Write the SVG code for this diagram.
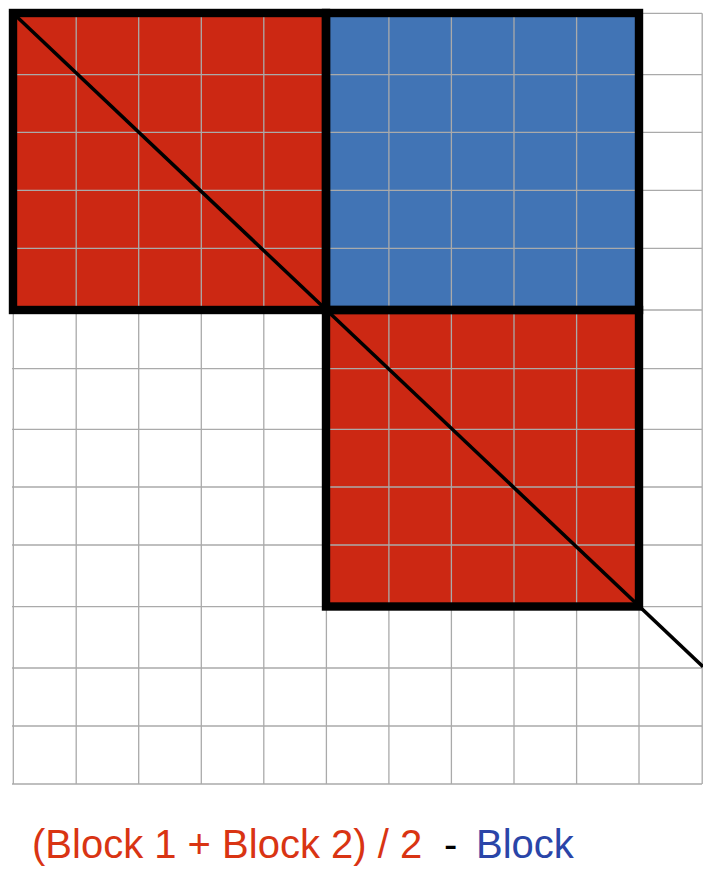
<svg xmlns="http://www.w3.org/2000/svg" width="703" height="887" viewBox="0 0 703 887">
<style>
.grid{stroke:#aaaaaa;stroke-width:1.3;fill:none}
.box{stroke:#000;stroke-width:8.4;fill:none;stroke-linejoin:miter}
.lbl{font-family:"Liberation Sans",Arial,sans-serif;font-size:40px}
</style>
<rect width="703" height="887" fill="#fff"/>
<g id="block1"><rect x="13" y="13" width="313" height="297" fill="#CC2813"/></g>
<g id="block-blue"><rect x="326" y="13" width="313" height="297" fill="#4174B5"/></g>
<g id="block2"><rect x="326" y="310" width="313" height="296.5" fill="#CC2813"/></g>
<g id="grid">
<path class="grid" d="M13.3 13.3V784 M76.2 13.3V784 M138.7 13.3V784 M201.3 13.3V784 M263.8 13.3V784 M326.4 13.3V784 M388.9 13.3V784 M451.4 13.3V784 M514 13.3V784 M576.6 13.3V784 M639 13.3V784 M702.2 13.3V784
M12 13.3H702 M12 74.7H702 M12 132.3H702 M12 190.3H702 M12 248.3H702 M12 310H702 M12 368.7H702 M12 429.3H702 M12 487H702 M12 545H702 M12 606.7H702 M12 668H702 M12 726H702 M12 784H702"/>
</g>
<g id="outlines">
<rect class="box" x="13" y="13" width="313" height="297"/>
<rect class="box" x="326" y="13" width="313" height="297"/>
<rect class="box" x="326" y="310" width="313" height="296.5"/>
</g>
<g id="connectors">
<line x1="10" y1="10.2" x2="703" y2="666.7" stroke="#000" stroke-width="3.5"/>
</g>
<g id="label">
<text class="lbl" y="857.7"><tspan x="32" fill="#D93413">(Block 1 + Block 2) / 2</tspan><tspan x="444" fill="#000">-</tspan><tspan x="476" fill="#2A45A8">Block</tspan></text>
</g>
</svg>
